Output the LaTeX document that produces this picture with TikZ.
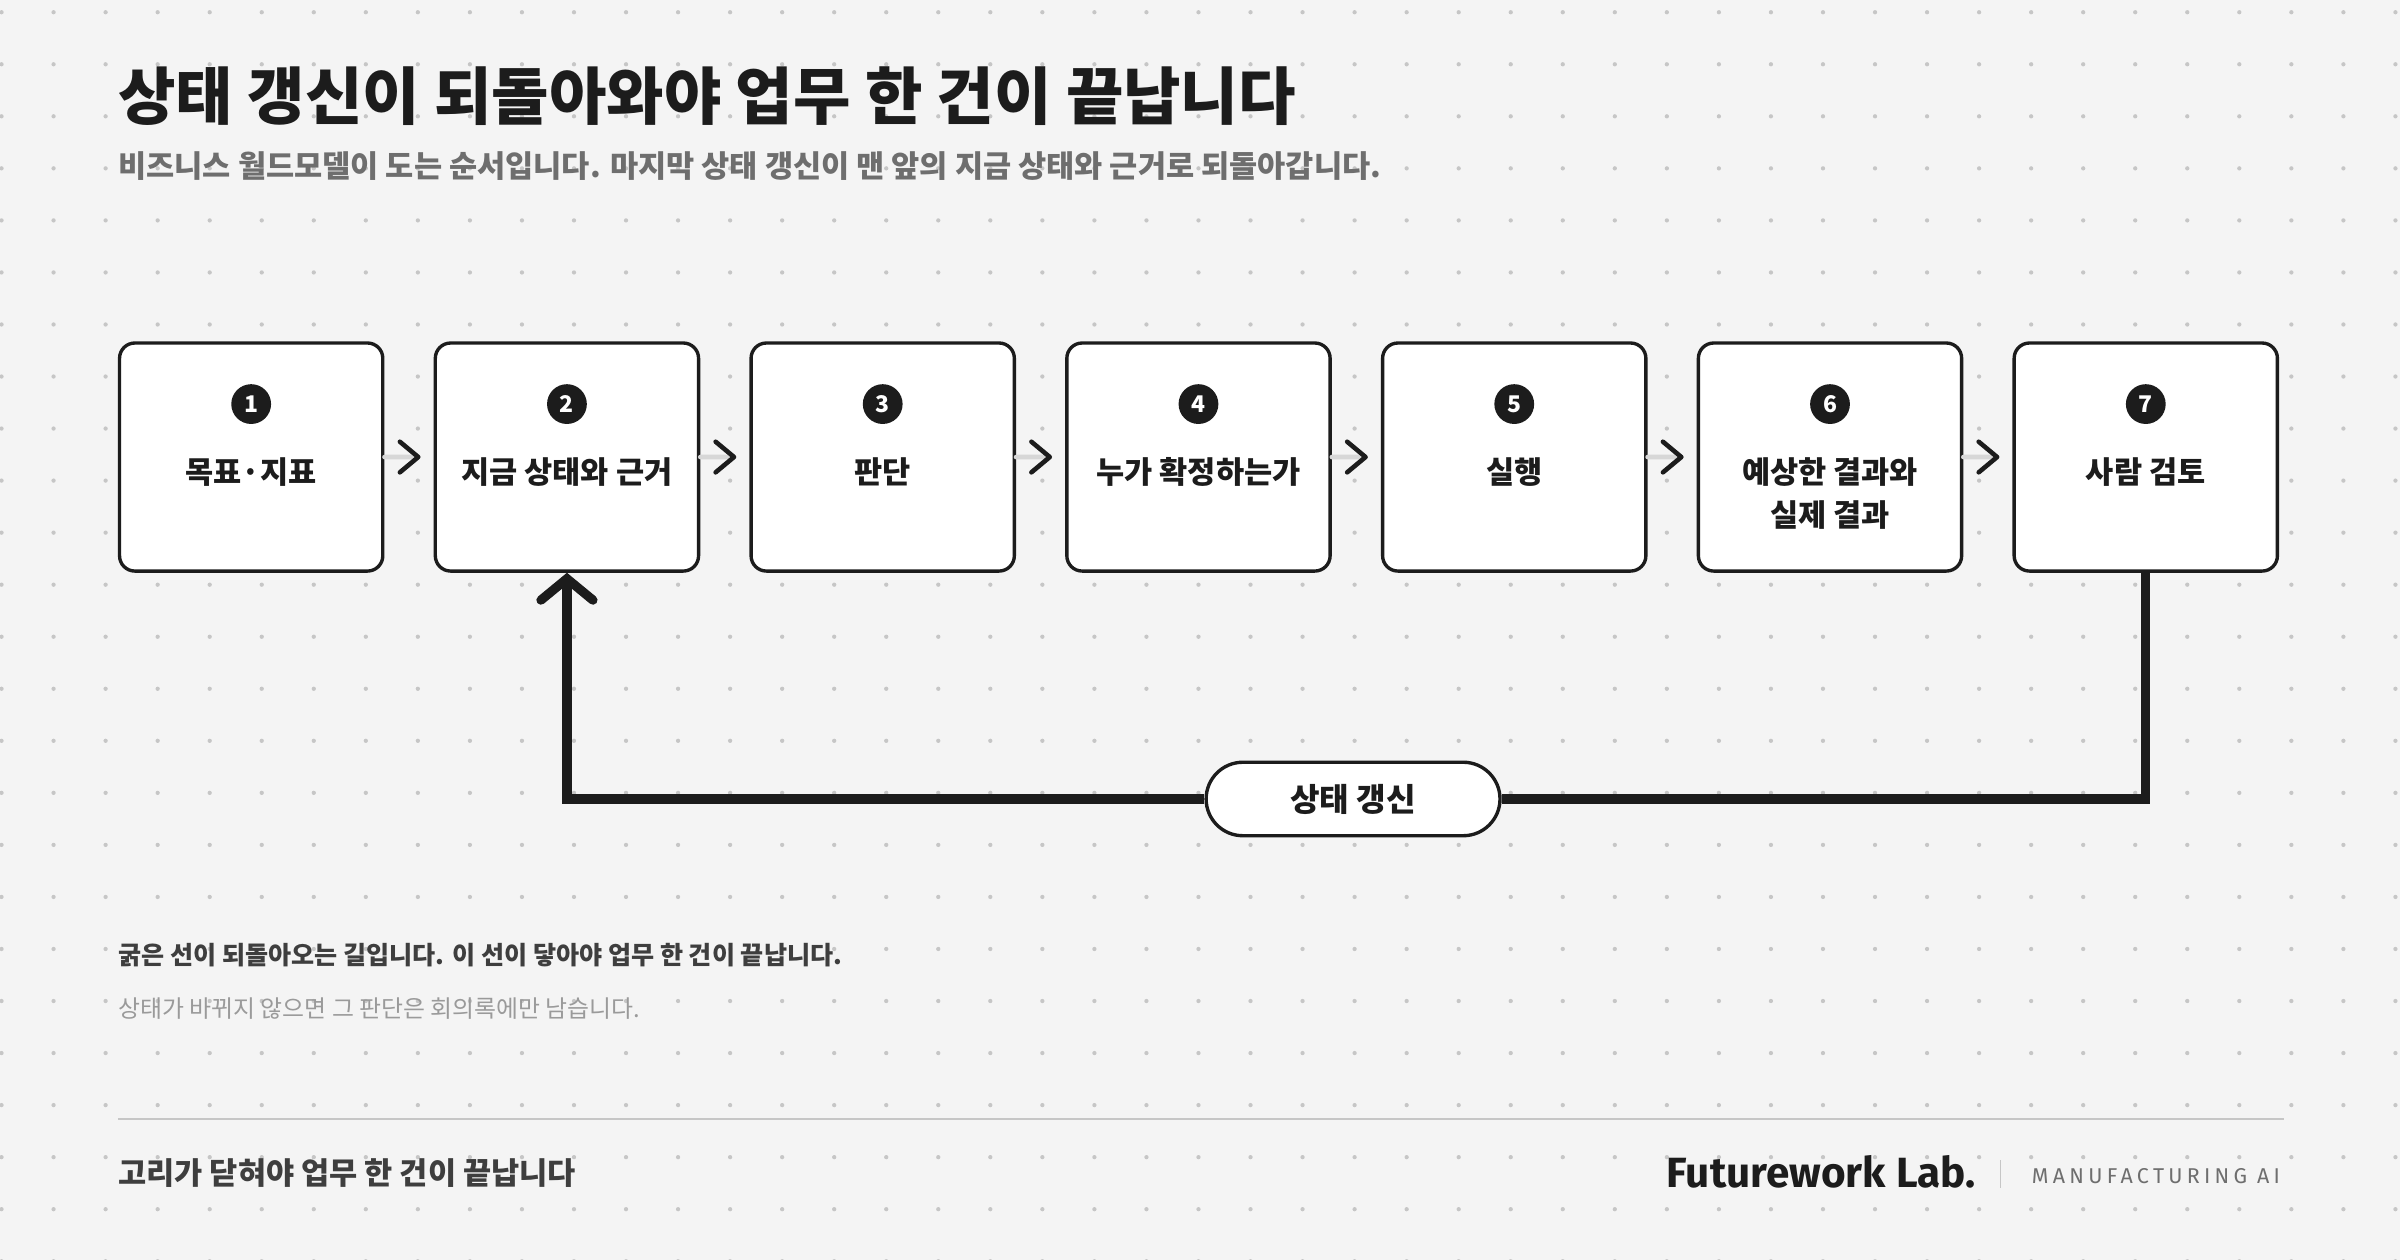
\documentclass[tikz,border=0pt]{standalone}
\usepackage{fontspec}
\setmainfont{Noto Sans CJK KR}
\newfontfamily\logofont{Fira Sans}
\usetikzlibrary{arrows.meta,positioning,calc}
\definecolor{ink}{HTML}{1C1C1C}
\definecolor{paper}{HTML}{F4F4F4}
\definecolor{dotc}{HTML}{C6C6C6}
\definecolor{subgray}{HTML}{6E6E6E}
\definecolor{faint}{HTML}{9A9A9A}
\tikzset{
  stepbox/.style={draw=ink,line width=1.1pt,fill=white,rounded corners=5pt,
    minimum width=86pt,minimum height=74.5pt,anchor=north west},
  num/.style={circle,fill=ink,text=white,inner sep=0pt,minimum size=13pt,
    font=\fontsize{7.5}{8}\selectfont\bfseries},
  lbl/.style={font=\fontsize{10}{14}\selectfont\bfseries,text=ink,align=center},
  chev/.style={draw=ink,line width=1.5pt,line cap=round,line join=round},
}
\begin{document}
\begin{tikzpicture}[x=0.5pt,y=-0.5pt]
  \fill[paper] (0,0) rectangle (1568,823);
  \useasboundingbox (0,0) rectangle (1568,823);
  % dot grid
  \foreach \i in {0,...,46}
    \foreach \j in {0,...,24}
      \fill[dotc] (1+34*\i,8+34*\j) circle (0.7pt);
  % heading
  \node[anchor=base west,inner sep=0pt,text=ink,font=\fontsize{20.4}{21}\selectfont\bfseries]
    (title) at (77,78) {상태 갱신이 되돌아와야 업무 한 건이 끝납니다};
  \node[anchor=base west,inner sep=0pt,text=subgray,font=\fontsize{10}{12}\selectfont\bfseries]
    (sub) at (77,116) {비즈니스 월드모델이 도는 순서입니다. 마지막 상태 갱신이 맨 앞의 지금 상태와 근거로 되돌아갑니다.};
  % steps
  \foreach \n/\t [count=\k from 0] in {1/목표·지표,2/지금 상태와 근거,3/판단,4/누가 확정하는가,5/실행,6/예상한 결과와\\실제 결과,7/사람 검토}{
    \node[stepbox] (s\n) at (77+206.3*\k,223) {};
    \node[num] (n\n) at ([yshift=-20.5pt]s\n.north) {\n};
    \node[lbl,anchor=north] (l\n) at ([yshift=-34.5pt]s\n.north) {\t};
  }
  % chevrons between steps
  \foreach \a/\b in {1/2,2/3,3/4,4/5,5/6,6/7}{
    \coordinate (c\a) at ($(s\a.east)!0.5!(s\b.west)$);
    \draw[dotc!70,line width=1.5pt,line cap=round] (s\a.east) -- ([xshift=3pt]c\a);
    \draw[chev] ([xshift=-3pt,yshift=5pt]c\a) -- ([xshift=3pt]c\a) -- ([xshift=-3pt,yshift=-5pt]c\a);
  }
  % feedback loop
  \node[draw=ink,line width=1.1pt,fill=white,rounded corners=12pt,minimum width=96pt,
    minimum height=24pt,font=\fontsize{10.5}{12}\selectfont\bfseries,text=ink] (upd) at (884,522) {상태 갱신};
  \draw[ink,line width=3pt] (s7.south) |- (upd.east);
  \draw[ink,line width=3pt,-{Straight Barb[length=7pt,width=17pt,line width=3pt,line cap=round]}] (upd.west) -| (s2.south);
  % notes
  \node[anchor=base west,inner sep=0pt,text=ink!85,font=\fontsize{8.2}{10}\selectfont\bfseries]
    (note1) at (77,630) {굵은 선이 되돌아오는 길입니다. 이 선이 닿아야 업무 한 건이 끝납니다.};
  \node[anchor=base west,inner sep=0pt,text=faint,font=\fontsize{7.8}{10}\selectfont]
    (note2) at (77,665) {상태가 바뀌지 않으면 그 판단은 회의록에만 남습니다.};
  % footer
  \draw[dotc,line width=0.5pt] (77,731) -- (1492,731);
  \node[anchor=base west,inner sep=0pt,text=ink!85,font=\fontsize{10}{12}\selectfont\bfseries]
    (foot) at (77,774) {고리가 닫혀야 업무 한 건이 끝납니다};
  \node[anchor=base east,inner sep=0pt,text=subgray,font=\logofont\fontsize{7}{8}\selectfont\addfontfeatures{LetterSpace=20}]
    (tag) at (1490,773) {MANUFACTURING AI};
  \draw[dotc,line width=0.6pt] (1307,758) -- (1307,776);
  \node[anchor=base east,inner sep=0pt,text=ink,font=\logofont\fontsize{13.8}{15}\selectfont\bfseries]
    (logo) at (1291,776) {Futurework Lab.};
\end{tikzpicture}
\end{document}
